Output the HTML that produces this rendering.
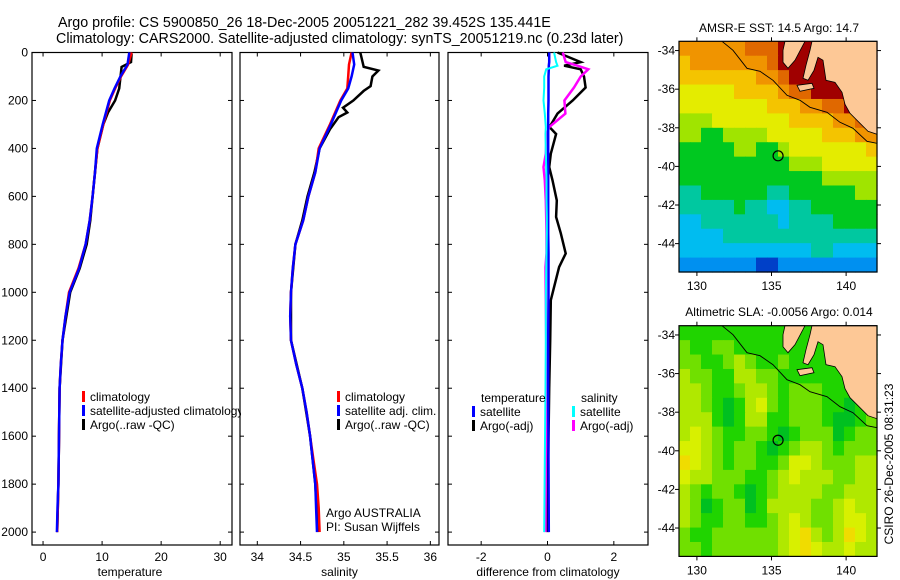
<!DOCTYPE html>
<html><head><meta charset="utf-8">
<style>
html,body{margin:0;padding:0;background:#fff;}
svg{display:block;font-family:"Liberation Sans",sans-serif;}
text{font-size:12px;fill:#000;}
</style></head>
<body>
<svg id="fig" width="900" height="580" viewBox="0 0 900 580" xmlns="http://www.w3.org/2000/svg">
<defs><clipPath id="clip1"><rect x="32" y="52" width="209" height="494"/></clipPath></defs>
<text x="58" y="27" style="font-size:14.3px">Argo profile: CS 5900850_26 18-Dec-2005 20051221_282 39.452S 135.441E</text>
<text x="56" y="43" style="font-size:14.3px">Climatology: CARS2000. Satellite-adjusted climatology: synTS_20051219.nc (0.23d later)</text>
<text x="779" y="32" text-anchor="middle">AMSR-E SST: 14.5 Argo: 14.7</text>
<text x="779" y="316" text-anchor="middle">Altimetric SLA: -0.0056 Argo: 0.014</text>
<text transform="translate(893,464) rotate(-90)" text-anchor="middle">CSIRO 26-Dec-2005 08:31:23</text>
<g id="plots"></g>
</svg>
<script>
// ---------- profile data ----------
const climDepth = [0,50,100,150,200,300,400,500,600,700,800,900,1000,1100,1200,1300,1400,1500,1600,1700,1800,1900,2000];
const tempClim  = [15,14.4,13.2,12.2,11.3,10.2,9.2,8.8,8.4,7.9,7.2,6.0,4.4,3.8,3.3,3.0,2.8,2.75,2.7,2.65,2.6,2.5,2.4];
const tempSat   = [14.6,14.3,13.1,12.1,11.2,10.1,9.1,8.8,8.4,7.9,7.2,6.1,4.5,3.8,3.3,3.0,2.8,2.75,2.7,2.65,2.6,2.45,2.35];
const argoTDepth = [5,40,60,150,200,250,300,400,500,600,700,800,900,1000,1200,1400,1600,1800,2000];
const tempArgo   = [15,14.9,13.3,12.9,12.2,11.0,10.2,9.2,8.8,8.4,8.0,7.4,6.2,4.6,3.3,2.8,2.7,2.6,2.4];
const salClim = [35.09,35.06,35.05,35.04,34.96,34.84,34.71,34.67,34.59,34.53,34.44,34.41,34.39,34.38,34.39,34.45,34.52,34.57,34.61,34.65,34.69,34.71,34.72];
const salSat  = [35.1,35.12,35.09,35.05,34.97,34.85,34.72,34.67,34.59,34.53,34.44,34.41,34.39,34.38,34.39,34.45,34.52,34.57,34.61,34.64,34.67,34.68,34.69];
const argoSDepth = [0,60,75,100,140,160,200,230,250,270,320,400,500,600,700,800,1000,1200,1400,1600,1800,2000];
const salArgo    = [35.19,35.23,35.4,35.33,35.31,35.23,35.11,34.99,35.04,34.94,34.84,34.72,34.66,34.58,34.52,34.44,34.39,34.39,34.52,34.61,34.67,34.7];
const diffDepth = [0,40,55,70,100,146,200,255,311,340,422,478,533,617,686,754,838,895,1033,1200,1400,1700,2000];
const diffTSat  = [0.05,0.05,0.04,0.04,0.03,0.03,0.03,0.02,0.02,0.02,0.02,0.02,0.02,0.02,0.02,0.02,0.03,0.03,0.03,0.02,0.02,0.03,0.04];
const diffTArgo = [0.3,1.0,0.5,1.0,1.1,1.15,0.76,0.3,0.06,0.26,0.1,0.05,0.15,0.28,0.26,0.4,0.55,0.35,0.1,0.08,0.05,0.02,0.0];
const diffSSat  = [0.2,0.26,0.3,-0.04,-0.1,-0.1,-0.12,-0.08,-0.05,-0.06,-0.05,-0.04,-0.03,-0.03,-0.02,-0.02,-0.03,-0.04,-0.05,-0.05,-0.06,-0.08,-0.1];
const diffSArgo = [0.46,0.55,0.9,1.23,1.0,0.8,0.51,0.54,0.05,-0.02,-0.05,-0.12,-0.08,-0.05,-0.04,-0.03,-0.03,-0.06,-0.05,-0.04,-0.03,-0.05,-0.06];
const depthTicks = [0,200,400,600,800,1000,1200,1400,1600,1800,2000];
const tempTicks = [0,10,20,30];
const salTicks = [34,34.5,35,35.5,36];
const salTickLabels = ["34","34.5","35","35.5","36"];
const diffTicks = [-2,0,2];
// ---------- map data ----------
const latTicks = [-34,-36,-38,-40,-42,-44];
const lonTicks = [130,135,140];
const argoLon = 135.441, argoLat = -39.452;
const sstGrid = [
[9,9,9,9,9,9,10,10,10,11,11,11,11,11,11,11,11,11],
[8,9,9,9,9,9,9,9,10,11,11,11,11,11,11,11,11,11],
[8,8,8,8,8,8,8,9,9,10,11,11,11,11,11,11,11,11],
[7,7,7,7,7,8,8,8,8,9,10,10,11,11,11,11,11,11],
[7,7,7,7,7,7,7,7,8,8,8,9,9,10,10,11,11,11],
[6,6,6,7,7,7,7,7,7,7,8,8,8,8,9,9,10,10],
[6,6,5,5,6,6,6,6,7,7,7,7,7,8,8,8,9,9],
[5,5,5,5,5,6,6,5,5,6,7,7,7,7,7,7,7,8],
[5,5,5,5,5,5,5,5,5,5,6,6,6,7,7,7,7,7],
[5,5,5,5,5,5,5,5,5,5,5,5,5,6,6,6,6,6],
[4,4,5,5,5,5,5,5,4,4,5,5,5,5,5,5,6,6],
[4,4,4,4,4,5,4,4,3,3,4,4,5,5,5,5,5,5],
[3,3,4,4,4,4,4,4,4,3,4,4,4,4,5,5,5,5],
[3,3,3,3,4,4,4,4,4,4,4,4,4,4,4,4,4,4],
[3,3,3,3,3,3,3,3,3,3,3,3,4,4,3,3,3,3],
[2,2,2,2,2,2,2,1,1,2,2,2,2,2,2,2,2,2]];
const slaGrid = [
[2,2,2,2,2,2,2,2,2,2,2,2,2,2,2,2,2,2],
[3,2,2,3,3,2,2,2,2,2,2,2,2,2,2,2,2,2],
[3,3,2,2,3,4,3,2,2,3,2,2,2,2,2,2,2,2],
[4,3,3,2,2,4,4,3,3,2,2,2,2,2,2,2,2,2],
[4,4,3,2,2,3,4,4,3,2,3,3,3,2,2,2,2,2],
[4,4,3,2,1,2,4,5,3,2,3,3,3,2,2,1,2,2],
[4,4,4,2,1,2,4,4,2,2,3,3,3,2,1,1,2,3],
[4,5,4,3,2,2,3,3,2,1,2,3,3,3,1,2,3,3],
[5,5,4,3,2,3,3,2,1,2,3,4,4,3,2,3,3,3],
[6,5,4,3,2,3,3,2,2,3,5,5,4,3,3,3,4,4],
[5,4,4,3,3,3,2,2,3,4,5,4,4,4,3,3,4,4],
[4,3,2,3,3,2,1,2,3,4,4,4,4,3,3,4,4,4],
[4,3,1,2,3,3,1,2,4,4,4,4,3,3,4,5,4,4],
[4,3,2,2,3,3,2,2,3,4,5,4,3,3,4,5,5,4],
[3,2,2,3,3,3,3,3,3,4,5,6,4,3,4,6,5,4],
[3,3,2,3,3,3,3,3,3,4,5,6,5,4,4,5,4,4]];

const NS='http://www.w3.org/2000/svg';
const root=document.getElementById('plots');
function mk(tag,attrs,parent){const e=document.createElementNS(NS,tag);for(const k in attrs)e.setAttribute(k,attrs[k]);(parent||root).appendChild(e);return e;}
function txt(s,x,y,anchor,parent){const t=mk('text',{x:x,y:y,'text-anchor':anchor||'start'},parent);t.textContent=s;return t;}

const PT=52.5, PB=545;
const yD=d=>PT+d*0.2398;

function panel(name,L,R,xmin,xmax,ticks,tickLabels,xlabel,showY){
  const g=mk('g',{});
  
  
  const xs=v=>L+(v-xmin)/(xmax-xmin)*(R-L);
  const fr=mk('rect',{x:L,y:PT,width:R-L,height:PB-PT,fill:'none',stroke:'#000','stroke-width':1.2},g);
  
  
  ticks.forEach((v,i)=>{const x=xs(v);
    mk('line',{x1:x,y1:PB,x2:x,y2:PB-4,stroke:'#000'},g);
    mk('line',{x1:x,y1:PT,x2:x,y2:PT+4,stroke:'#000'},g);
    const t=txt(tickLabels[i],x,PB+16,'middle',g);
    
    
  });
  depthTicks.forEach(d=>{const y=yD(d);
    mk('line',{x1:L,y1:y,x2:L+4,y2:y,stroke:'#000'},g);
    mk('line',{x1:R,y1:y,x2:R-4,y2:y,stroke:'#000'},g);
    if(showY){const t=txt(String(d),L-4,y+4,'end',g);
      
      }
  });
  const xl=txt(xlabel,(L+R)/2+(name==='temperature-panel'?-2:0),PB+31,'middle',g);
  
  
  return {g,xs};
}
function series(p,depths,vals,color,name,w){
  const pts=depths.map((d,i)=>p.xs(vals[i]).toFixed(1)+','+yD(d).toFixed(1)).join(' ');
  const l=mk('polyline',{points:pts,fill:'none',stroke:color,'stroke-width':w||2.5,'stroke-linejoin':'miter'},p.g);
  
  
}
function legend(p,x,y,color,label,name,clip){
  const b=mk('rect',{x:x,y:y-10,width:3,height:11,fill:color},p.g);
  
  
  const t=txt(label,x+8,y,'start',p.g);
  if(clip) t.setAttribute('clip-path','url(#clip1)');
  
  
}

const p1=panel('temperature-panel',32,232,-1.87,32.0,tempTicks,tempTicks.map(String),'temperature',true);
series(p1,argoTDepth,tempArgo,'#000','temp-argo-line');
series(p1,climDepth,tempClim,'#f00','temp-climatology-line');
series(p1,climDepth,tempSat,'#00f','temp-satellite-line');
legend(p1,82,401,'#f00','climatology','legend-climatology',true);
legend(p1,82,415,'#00f','satellite-adjusted climatology','legend-satellite-adjusted',true);
legend(p1,82,429,'#000','Argo(..raw -QC)','legend-argo-raw',true);

const p2=panel('salinity-panel',240,439,33.80,36.10,salTicks,salTickLabels,'salinity',false);
series(p2,argoSDepth,salArgo,'#000','sal-argo-line');
series(p2,climDepth,salClim,'#f00','sal-climatology-line');
series(p2,climDepth,salSat,'#00f','sal-satellite-line');
legend(p2,337,401,'#f00','climatology','legend-sal-climatology');
legend(p2,337,415,'#00f','satellite adj. clim.','legend-sal-satellite');
legend(p2,337,429,'#000','Argo(..raw -QC)','legend-sal-argo');
const a1=txt('Argo AUSTRALIA',326,517,'start',p2.g);


const a2=txt('PI: Susan Wijffels',326,531,'start',p2.g);



const p3=panel('difference-panel',448,648,-3.0,3.03,diffTicks,diffTicks.map(String),'difference from climatology',false);
series(p3,diffDepth,diffTArgo,'#000','diff-temp-argo-line');
series(p3,diffDepth,diffSArgo,'#f0f','diff-sal-argo-line');
series(p3,diffDepth,diffTSat,'#00f','diff-temp-satellite-line');
series(p3,diffDepth,diffSSat,'#0ff','diff-sal-satellite-line',2);
const lt=txt('temperature',481,402,'start',p3.g);


const ls=txt('salinity',581,402,'start',p3.g);


legend(p3,472,416,'#00f','satellite','legend-diff-temp-satellite');
legend(p3,472,430,'#000','Argo(-adj)','legend-diff-temp-argo');
legend(p3,572,416,'#0ff','satellite','legend-diff-sal-satellite');
legend(p3,572,430,'#f0f','Argo(-adj)','legend-diff-sal-argo');

// ---------- maps ----------
const sstColors={1:'#0040c8',2:'#0090f0',3:'#00bcf0',4:'#00c8a0',5:'#00c820',6:'#a0e400',7:'#e4ec00',8:'#f4c400',9:'#f09400',10:'#e06800',11:'#a00000'};
const slaColors={1:'#00c020',2:'#20d400',3:'#70e000',4:'#b0e800',5:'#d8f000',6:'#f0dc00'};
const landA=[[106,0],[126,0],[116,19],[109,27],[104,21],[104,9]];
const landB=[[133,0],[198,0],[198,93],[189,90],[179,80],[171,72],[166,63],[163,51],[156,41],[147,39],[144,19],[139,16],[135,29],[129,39],[124,37],[127,24],[131,9]];
const landK=[[118,44],[133,42],[135,47],[121,50]];
const shelf=[[43,0],[54,9],[68,27],[81,30],[94,39],[108,54],[121,59],[131,66],[148,71],[161,81],[174,87],[188,100],[198,102]];
function drawMap(name,T,grid,colors){
  const L=679,R=877,B=T+230.7,W=R-L,H=B-T;
  const lonMin=128.8,lonMax=142.07,latMax=-33.52,latMin=-45.47;
  const xs=lo=>L+(lo-lonMin)/(lonMax-lonMin)*W;
  const ys=la=>T+(latMax-la)/(latMax-latMin)*H;
  const g=mk('g',{});
  
  
  const rows=grid.length,cols=grid[0].length,cw=W/cols,ch=H/rows;
  grid.forEach((row,r)=>row.forEach((v,c)=>{
    const cell=mk('rect',{x:(L+c*cw).toFixed(2),y:(T+r*ch).toFixed(2),width:(cw+0.6).toFixed(2),height:(ch+0.6).toFixed(2),fill:colors[v]},g);
    
    
  }));
  const sh=mk('polyline',{points:shelf.map(p=>(L+p[0])+','+(T+p[1])).join(' '),fill:'none',stroke:'#000','stroke-width':0.9},g);
  
  
  [landA,landB,landK].forEach(poly=>{
    const p=mk('polygon',{points:poly.map(q=>(L+q[0])+','+(T+q[1])).join(' '),fill:'#fdc896',stroke:'#000','stroke-width':0.8},g);
    
    
  });
  const circ=mk('circle',{cx:xs(argoLon),cy:ys(argoLat),r:5,fill:'none',stroke:'#000','stroke-width':1.2},g);
  
  
  mk('rect',{x:L,y:T,width:W,height:H,fill:'none',stroke:'#000','stroke-width':1.2},g);
  latTicks.forEach(la=>{const y=ys(la);
    mk('line',{x1:L-4,y1:y,x2:L,y2:y,stroke:'#000'},g);
    mk('line',{x1:R,y1:y,x2:R+4,y2:y,stroke:'#000'},g);
    const t=txt(String(la),L-4,y+4,'end',g);
    
    
  });
  lonTicks.forEach(lo=>{const x=xs(lo);
    mk('line',{x1:x,y1:T-4,x2:x,y2:T,stroke:'#000'},g);
    mk('line',{x1:x,y1:B,x2:x,y2:B+4,stroke:'#000'},g);
    const t=txt(String(lo),x,B+18,'middle',g);
    
    
  });
}
drawMap('sst-map',41.3,sstGrid,sstColors);
drawMap('sla-map',325.7,slaGrid,slaColors);
</script>
</body></html>
